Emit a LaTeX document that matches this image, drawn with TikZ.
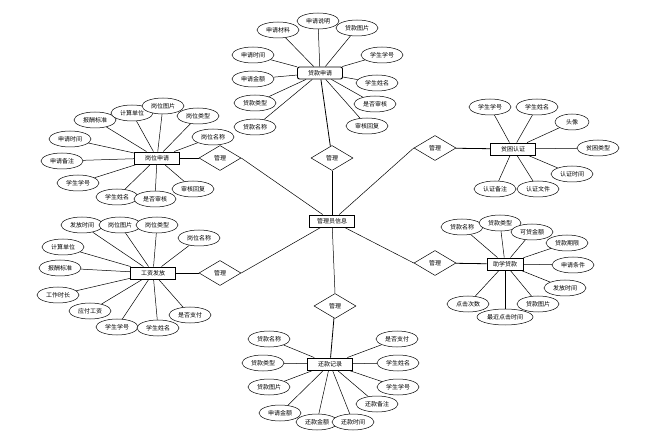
\documentclass[tikz,border=0pt]{standalone}
\usepackage{fontspec}
\setmainfont{Noto Sans CJK SC}
\usetikzlibrary{shapes.geometric,backgrounds}

\begin{document}
\begin{tikzpicture}[x=1pt,y=-1pt,
	entity/.style={rectangle, draw, fill=white, line width=0.9pt, minimum width=45pt, minimum height=12pt, inner sep=1pt, font=\fontsize{6}{7}\selectfont},
	attr/.style={ellipse, draw, fill=white, line width=0.5pt, minimum width=42pt, minimum height=16pt, inner sep=0pt, font=\fontsize{6}{7}\selectfont},
	rel/.style={diamond, draw, fill=white, line width=0.5pt, minimum width=42pt, minimum height=25pt, inner sep=0pt, font=\fontsize{6}{7}\selectfont},
	link/.style={line width=0.5pt}]
				\useasboundingbox (0,0) rectangle (666,443);

				% centre
				\node[entity] (Admin) at (332,221) {管理员信息};
				\node[rel] (RelTop) at (332,158) {管理};
				\node[rel] (RelUL) at (220,158) {管理};
				\node[rel] (RelLL) at (220,273) {管理};
				\node[rel] (RelBot) at (335,306) {管理};
				\node[rel] (RelUR) at (435,148) {管理};
				\node[rel] (RelLR) at (435,263) {管理};

				% 贷款申请
				\node[entity, rounded corners=2pt] (LoanApp) at (320,73) {贷款申请};
				\node[attr] (LoanApp1) at (278,30) {申请材料};
				\node[attr] (LoanApp2) at (318,21) {申请说明};
				\node[attr] (LoanApp3) at (357,28) {贷款图片};
				\node[attr] (LoanApp4) at (253,55) {申请时间};
				\node[attr] (LoanApp5) at (382,55) {学生学号};
				\node[attr] (LoanApp6) at (253,79) {申请金额};
				\node[attr] (LoanApp7) at (377,83) {学生姓名};
				\node[attr] (LoanApp8) at (255,103) {贷款类型};
				\node[attr] (LoanApp9) at (375,104) {是否审核};
				\node[attr] (LoanApp10) at (255,127) {贷款名称};
				\node[attr] (LoanApp11) at (367,126) {审核回复};

				% 岗位申请
				\node[entity] (JobApp) at (157,158) {岗位申请};
				\node[attr] (JobApp1) at (95,120) {报酬标准};
				\node[attr] (JobApp2) at (132,113) {计算单位};
				\node[attr] (JobApp3) at (163,106) {岗位图片};
				\node[attr] (JobApp4) at (198,116) {岗位类型};
				\node[attr] (JobApp5) at (70,139) {申请时间};
				\node[attr] (JobApp6) at (213,137) {岗位名称};
				\node[attr] (JobApp7) at (62,161) {申请备注};
				\node[attr] (JobApp8) at (78,183) {学生学号};
				\node[attr] (JobApp9) at (117,197) {学生姓名};
				\node[attr] (JobApp10) at (155,199) {是否审核};
				\node[attr] (JobApp11) at (193,189) {审核回复};

				% 工资发放
				\node[entity] (Wage) at (153,273) {工资发放};
				\node[attr] (Wage1) at (82,225) {发放时间};
				\node[attr] (Wage2) at (120,225) {岗位图片};
				\node[attr] (Wage3) at (157,225) {岗位类型};
				\node[attr] (Wage4) at (199,238) {岗位名称};
				\node[attr] (Wage5) at (63,247) {计算单位};
				\node[attr] (Wage6) at (60,268) {报酬标准};
				\node[attr] (Wage7) at (58,295) {工作时长};
				\node[attr] (Wage8) at (90,311) {应付工资};
				\node[attr] (Wage9) at (117,327) {学生学号};
				\node[attr] (Wage10) at (158,328) {学生姓名};
				\node[attr] (Wage11) at (190,315) {是否支付};

				% 还款记录
				\node[entity] (Repay) at (330,364) {还款记录};
				\node[attr] (Repay1) at (269,339) {贷款名称};
				\node[attr] (Repay2) at (263,363) {贷款类型};
				\node[attr] (Repay3) at (269,387) {贷款图片};
				\node[attr] (Repay4) at (397,339) {是否支付};
				\node[attr] (Repay5) at (398,363) {学生姓名};
				\node[attr] (Repay6) at (398,387) {学生学号};
				\node[attr] (Repay7) at (280,413) {申请金额};
				\node[attr] (Repay8) at (317,422) {还款金额};
				\node[attr] (Repay9) at (353,422) {还款时间};
				\node[attr] (Repay10) at (377,404) {还款备注};

				% 贫困认证
				\node[entity] (Poor) at (513,149) {贫困认证};
				\node[attr] (Poor1) at (490,107) {学生学号};
				\node[attr] (Poor2) at (537,107) {学生姓名};
				\node[attr, minimum width=34pt] (Poor3) at (572,122) {头像};
				\node[attr] (Poor4) at (598,148) {贫困类型};
				\node[attr] (Poor5) at (572,174) {认证时间};
				\node[attr] (Poor6) at (495,189) {认证备注};
				\node[attr] (Poor7) at (538,189) {认证文件};

				% 助学贷款
				\node[entity, minimum width=36pt] (Loan) at (505,264) {助学贷款};
				\node[attr] (Loan1) at (462,227) {贷款名称};
				\node[attr] (Loan2) at (500,223) {贷款类型};
				\node[attr] (Loan3) at (532,232) {可贷金额};
				\node[attr] (Loan4) at (567,243) {贷款期限};
				\node[attr] (Loan5) at (573,265) {申请条件};
				\node[attr] (Loan6) at (565,288) {发放时间};
				\node[attr] (Loan7) at (468,304) {点击次数};
				\node[attr, minimum width=56pt] (Loan8) at (505,317) {最近点击时间};
				\node[attr] (Loan9) at (538,304) {贷款图片};

				\begin{pgfonlayer}{background}
				\fill[white] (0,0) rectangle (666,443);
				% relations
				\path[link] (Admin) edge (RelTop.south)
						  (Admin) edge (RelUL.east)
						  (Admin) edge (RelLL.east)
						  (Admin) edge (RelBot.north)
						  (Admin) edge (RelUR.west)
						  (Admin) edge (RelLR.west);
				\path[line width=0.8pt] (RelTop) edge (LoanApp)
						  (RelUL) edge (JobApp)
						  (RelLL) edge (Wage)
						  (RelBot) edge (Repay)
						  (RelUR) edge (Poor)
						  (RelLR) edge (Loan);

				% attributes
				\foreach \i in {1,...,11} {
					\draw[link] (LoanApp\i) -- (LoanApp);
					\draw[link] (JobApp\i) -- (JobApp);
					\draw[link] (Wage\i) -- (Wage);
				}
				\foreach \i in {1,...,10} \draw[link] (Repay\i) -- (Repay);
				\foreach \i in {1,...,7} \draw[link] (Poor\i) -- (Poor);
				\foreach \i in {1,...,9} \draw[link] (Loan\i) -- (Loan);
				\end{pgfonlayer}
			\end{tikzpicture}
\end{document}
